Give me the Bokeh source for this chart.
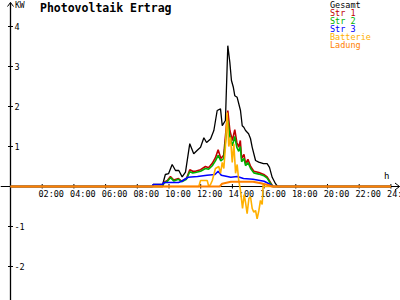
from bokeh.plotting import figure
from bokeh.models import Range1d
from bokeh.embed import file_html
from bokeh.resources import INLINE
from bokeh.core.properties import value

# ---------------- data (hours, kW) ----------------
gesamt_t = [0, 8.95, 9.0, 9.6, 9.77, 9.97, 10.2, 10.41, 10.62, 10.83, 11.04, 11.31, 11.56, 11.77,
            11.99, 12.2, 12.37, 12.62, 12.83, 13.04, 13.25, 13.36, 13.56, 13.71, 13.84, 13.94,
            14.06, 14.15, 14.3, 14.51, 14.62, 14.72, 14.83, 15.02, 15.14, 15.25, 15.46, 15.66,
            15.96, 16.19, 16.34, 16.51, 16.72, 16.85, 24]
gesamt_v = [0, 0, 0.05, 0.05, 0.3, 0.32, 0.55, 0.4, 0.4, 0.24, 0.36, 1.07, 0.82, 0.9,
            0.98, 1.22, 1.1, 1.19, 1.4, 1.9, 1.94, 1.52, 1.65, 3.52, 3.1, 2.65,
            2.48, 2.27, 2.23, 1.9, 1.52, 1.48, 1.4, 1.32, 1.2, 0.98, 0.65, 0.61,
            0.57, 0.57, 0.48, 0.23, 0.07, 0, 0]

str_t = [0, 9.6, 9.67, 9.9, 10.09, 10.3, 10.6, 10.8, 11.1, 11.31, 11.5, 11.67, 11.99, 12.3,
         12.5, 12.73, 12.93, 13.1, 13.27, 13.45, 13.71, 13.84, 14.0, 14.15, 14.28, 14.4,
         14.5, 14.58, 14.73, 14.83, 14.98, 15.15, 15.35, 15.67, 15.98, 16.19, 16.4, 16.55, 24]
str1_v = [0, 0, 0.1, 0.15, 0.25, 0.16, 0.2, 0.13, 0.2, 0.42, 0.38, 0.38, 0.42, 0.5,
          0.47, 0.58, 0.72, 0.92, 0.7, 0.78, 1.9, 1.4, 1.15, 1.42, 1.1, 0.98,
          1.15, 0.7, 0.8, 0.58, 0.68, 0.5, 0.38, 0.35, 0.3, 0.24, 0.1, 0, 0]
str2_v = [0, 0, 0.08, 0.13, 0.22, 0.14, 0.18, 0.12, 0.18, 0.37, 0.34, 0.35, 0.38, 0.45,
          0.43, 0.52, 0.64, 0.78, 0.64, 0.7, 1.65, 1.25, 1.02, 1.25, 0.98, 0.88,
          1.0, 0.62, 0.7, 0.52, 0.6, 0.45, 0.34, 0.31, 0.27, 0.21, 0.08, 0, 0]

str3_t = [0, 8.95, 9.0, 9.6, 9.67, 10.6, 10.8, 11.2, 11.8, 12.4, 12.9, 13.1, 13.3, 13.9,
          14.3, 14.7, 15.3, 16.0, 16.4, 16.55, 24]
str3_v = [0, 0, 0.05, 0.05, 0.1, 0.1, 0.13, 0.23, 0.25, 0.28, 0.3, 0.38, 0.28, 0.23,
          0.25, 0.2, 0.18, 0.13, 0.05, 0, 0]

batt_t = [0, 11.88, 11.99, 12.41, 12.51, 12.62, 12.73, 12.93, 13.14, 13.25, 13.36, 13.46,
          13.56, 13.67, 13.77, 13.88, 13.99, 14.09, 14.2, 14.3, 14.4, 14.51, 14.64, 14.74,
          14.83, 14.93, 15.04, 15.14, 15.25, 15.35, 15.46, 15.56, 15.67, 15.77, 15.88,
          15.94, 15.98, 24]
batt_v = [0, 0, 0.15, 0.15, 0, 0.05, 0.15, 0.45, 0.5, 0.33, 0.6, 0.45,
          1.0, 1.85, 1.0, 1.23, 0.6, 1.07, 0.33, 0.55, 0.15, -0.1, -0.55, -0.2,
          -0.4, -0.68, -0.3, -0.25, -0.55, -0.64, -0.6, -0.81, -0.6, -0.35, -0.45,
          0.05, 0, 0]

lad_t = [0, 13.2, 13.35, 13.9, 15.3, 15.8, 16.3, 16.5, 24]
lad_v = [0, 0, 0.07, 0.12, 0.12, 0.08, 0.03, 0, 0]

x_ticks = [2, 4, 6, 8, 10, 12, 14, 16, 18, 20, 22, 24]
x_labels = ["02:00", "04:00", "06:00", "08:00", "10:00", "12:00", "14:00", "16:00",
            "18:00", "20:00", "22:00", "24:00"]
y_ticks = [-2, -1, 1, 2, 3, 4]
y_labels = ["-2", "-1", "1", "2", "3", "4"]

legend_names = ["Gesamt", "Str 1", "Str 2", "Str 3", "Batterie", "Ladung"]
colors = ["#000000", "#c00000", "#00b000", "#0000ff", "#ffb000", "#ff8000"]

# ---------------- pixel <-> data helpers (layout only) ----------------
W, H = 400, 300
X0, PXH = 10.0, 15.85
Y0, PXK = 186.0, 40.0


def ph(px):
    return (px - X0) / PXH


def pk(py):
    return (Y0 - py) / PXK


p = figure(width=W, height=H, x_range=Range1d(ph(0), ph(W)), y_range=Range1d(pk(H), pk(0)),
           toolbar_location=None, output_backend="svg", x_axis_type=None, y_axis_type=None,
           min_border=0)
p.grid.visible = False
p.outline_line_color = None
p.background_fill_color = "white"
p.border_fill_color = "white"

MONO = value("DejaVu Sans Mono")

# axes
p.line([ph(0), ph(399)], [0, 0], color="black", line_width=1)
p.line([0, 0], [pk(H), pk(2)], color="black", line_width=1.3)
# arrow heads
p.segment(x0=[0, 0], y0=[pk(2), pk(2)], x1=[ph(7), ph(13)], y1=[pk(6), pk(6)],
          color="black", line_width=1)
p.segment(x0=[ph(399), ph(399)], y0=[0, 0], x1=[ph(394.5), ph(394.5)], y1=[pk(182.5), pk(189.5)],
          color="black", line_width=1)
# y ticks
p.segment(x0=[ph(7.5)] * len(y_ticks), y0=y_ticks, x1=[ph(12.5)] * len(y_ticks), y1=y_ticks,
          color="black", line_width=1)
p.text(x=[ph(14)] * len(y_ticks), y=y_ticks, text=y_labels, text_font=MONO,
       text_font_size="8.5px", text_align="left", text_baseline="middle", text_color="black")
# x ticks
p.segment(x0=x_ticks, y0=[pk(183.5)] * len(x_ticks), x1=x_ticks, y1=[pk(188)] * len(x_ticks),
          color="black", line_width=1)
p.text(x=x_ticks, y=[pk(193.5)] * len(x_ticks), text=x_labels, text_font=MONO,
       text_font_size="8.5px", text_align="left", text_baseline="middle", text_color="black",
       x_offset=-3.8)

# unit labels
p.text(x=[ph(14.5)], y=[pk(5)], text=["KW"], text_font=MONO, text_font_size="8px",
       text_align="left", text_baseline="middle", text_color="black")
p.text(x=[ph(383.5)], y=[pk(175.5)], text=["h"], text_font=MONO, text_font_size="9px",
       text_align="left", text_baseline="middle", text_color="black")

# title
p.text(x=[ph(39.5)], y=[pk(7.3)], text=["Photovoltaik Ertrag"], text_font=MONO,
       text_font_size="11.5px", text_font_style="bold", text_align="left",
       text_baseline="middle", text_color="black")

# series
p.line(gesamt_t, gesamt_v, color=colors[0], line_width=1.3)
p.line(str_t, str1_v, color=colors[1], line_width=1.6)
p.line(str_t, str2_v, color=colors[2], line_width=1.6)
p.line(str3_t, str3_v, color=colors[3], line_width=1.6)
p.line(batt_t, batt_v, color=colors[4], line_width=1.6)
p.line(lad_t, lad_v, color=colors[5], line_width=2)

# legend (text list, top right)
for i, (name, c) in enumerate(zip(legend_names, colors)):
    p.text(x=[ph(329.5)], y=[pk(4.6 + 8 * i)], text=[name], text_font=MONO,
           text_font_size="8.5px", text_align="left", text_baseline="middle", text_color=c)

open("out.html", "w").write(file_html(p, INLINE))
